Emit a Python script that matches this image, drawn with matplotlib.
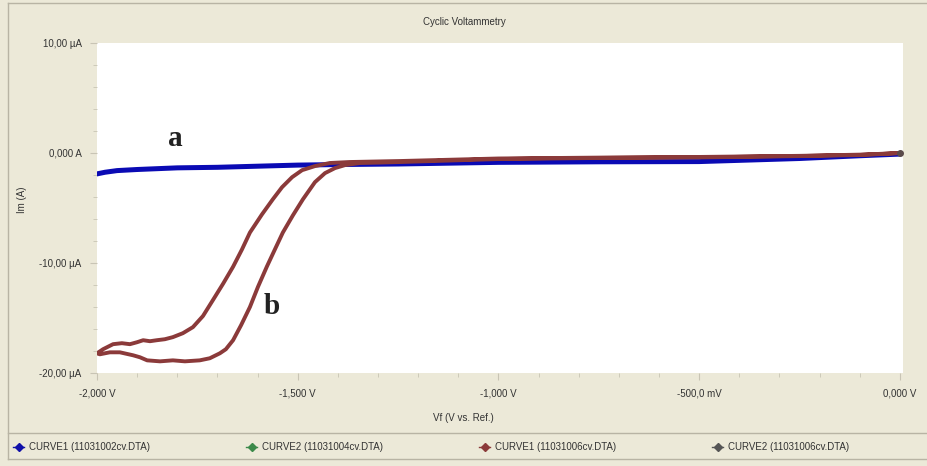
import matplotlib.pyplot as plt
from matplotlib.lines import Line2D
from matplotlib.ticker import FixedLocator, MultipleLocator

plt.rcParams['font.family'] = ['Liberation Sans', 'DejaVu Sans']

# curve a : 11031002cv (V, uA)
va = [-2.0, -1.98, -1.95, -1.90, -1.80, -1.70, -1.60, -1.50, -1.40, -1.25,
      -1.00, -0.75, -0.50, -0.25, -0.10, 0.0]
ia = [-1.9, -1.75, -1.6, -1.5, -1.35, -1.3, -1.2, -1.1, -1.05, -1.0,
      -0.85, -0.8, -0.78, -0.5, -0.25, -0.1]

# curve b : 11031006cv, one cycle 0 V -> -2 V -> 0 V (V, uA)
vb = [0.0, -0.05, -0.10, -0.25, -0.50, -0.75, -1.00, -1.245, -1.295, -1.345,
      -1.382, -1.407, -1.432, -1.457, -1.487, -1.512, -1.537, -1.557, -1.577,
      -1.599, -1.619, -1.641, -1.661, -1.679, -1.694, -1.719, -1.744, -1.781,
      -1.811, -1.843, -1.875, -1.893, -1.910, -1.943, -1.968, -1.993, -2.0,
      -1.985, -1.960, -1.938, -1.918, -1.900, -1.885, -1.868, -1.851, -1.831,
      -1.811, -1.786, -1.761, -1.736, -1.711, -1.686, -1.661, -1.639, -1.619,
      -1.589, -1.562, -1.539, -1.514, -1.489, -1.457, -1.420, -1.370, -1.245,
      -1.00, -0.75, -0.50, -0.25, -0.10, -0.05, 0.0]
ib = [0.0, -0.1, -0.18, -0.28, -0.4, -0.45, -0.55, -0.82, -0.87, -0.91,
      -1.10, -1.37, -1.83, -2.65, -4.21, -5.67, -7.23, -8.78, -10.34,
      -12.17, -14.0, -15.65, -17.02, -17.84, -18.21, -18.66, -18.85, -18.94,
      -18.85, -18.94, -18.85, -18.57, -18.39, -18.12, -18.12, -18.30, -18.21,
      -17.84, -17.38, -17.29, -17.38, -17.20, -17.02, -17.11, -17.02, -16.93,
      -16.74, -16.38, -15.83, -14.82, -13.36, -11.89, -10.34, -8.78, -7.23,
      -5.58, -4.21, -3.11, -2.20, -1.56, -1.19, -0.91, -0.82, -0.73,
      -0.5, -0.42, -0.36, -0.26, -0.15, -0.08, 0.0]

yticks = [-20, -10, 0, 10]
ylabels = ['-20,00 µA', '-10,00 µA', '0,000 A', '10,00 µA']
xticks = [-2.0, -1.5, -1.0, -0.5, 0.0]
xlabels = ['-2,000 V', '-1,500 V', '-1,000 V', '-500,0 mV', '0,000 V']

legend_names = ['CURVE1 (11031002cv.DTA)', 'CURVE2 (11031004cv.DTA)',
                'CURVE1 (11031006cv.DTA)', 'CURVE2 (11031006cv.DTA)']
legend_colors = ['#1010a8', '#3c8a4a', '#8b3a3a', '#555555']

bg = '#ece9d8'
fig = plt.figure(figsize=(9.28, 4.66), dpi=100, facecolor=bg)
ax = fig.add_axes([97 / 928, 93 / 466, 806 / 928, 330 / 466])
ax.set_facecolor('white')

ax.plot(va, ia, color='#0a0ab4', lw=3.6, solid_capstyle='round',
        solid_joinstyle='round', zorder=2)
ax.plot(vb, ib, color='#8b3a3a', lw=2.8, solid_capstyle='round',
        solid_joinstyle='round', zorder=3)
ax.plot([0.0], [0.0], 'o', color='#5a4a4a', ms=4, zorder=4)

ax.text(-1.806, 1.3, 'a', family='Liberation Serif', weight='bold',
        fontsize=21, ha='center', va='center', color='#222222')
ax.text(-1.564, -14.0, 'b', family='Liberation Serif', weight='bold',
        fontsize=21, ha='center', va='center', color='#222222')

ax.set_xlim(-2.0, 0.008)
ax.set_ylim(-20, 10)
ax.yaxis.set_major_locator(FixedLocator(yticks))
ax.set_yticklabels(ylabels)
ax.xaxis.set_major_locator(FixedLocator(xticks))
ax.set_xticklabels(xlabels)
ax.yaxis.set_minor_locator(MultipleLocator(2))
ax.xaxis.set_minor_locator(MultipleLocator(0.1))
ax.tick_params(which='both', direction='out', color='#c8c4b4', labelsize=7,
               labelcolor='#333333')
ax.tick_params(which='major', length=5, pad=6)
ax.tick_params(which='minor', length=3)
for s in ax.spines.values():
    s.set_visible(False)

fig.text(0.5, 1 - 22 / 466, 'Cyclic Voltammetry', ha='center', va='center',
         fontsize=7, color='#333333')
fig.text(463 / 928, 1 - 418 / 466, 'Vf (V vs. Ref.)', ha='center',
         va='center', fontsize=7, color='#333333')
fig.text(22 / 928, 1 - 200 / 466, 'Im (A)', ha='center', va='center',
         rotation=90, fontsize=7, color='#333333')

# panel borders
for y in [3, 433, 459]:
    fig.add_artist(Line2D([8 / 928, 1], [1 - y / 466] * 2, color='#b8b4a4',
                          lw=1))
fig.add_artist(Line2D([8 / 928] * 2, [1 - 3 / 466, 1 - 459 / 466],
                      color='#b8b4a4', lw=1))

# legend strip
for k, (name, c) in enumerate(zip(legend_names, legend_colors)):
    h = Line2D([], [], color=c, marker='D', ms=4, lw=1)
    fig.legend([h], [name], loc='center left',
               bbox_to_anchor=((4 + 233 * k) / 928, 1 - 447 / 466),
               frameon=False, fontsize=7, handlelength=1.2, handletextpad=0.5,
               labelcolor='#333333')

fig.savefig('out.png', dpi=100, facecolor=bg)
